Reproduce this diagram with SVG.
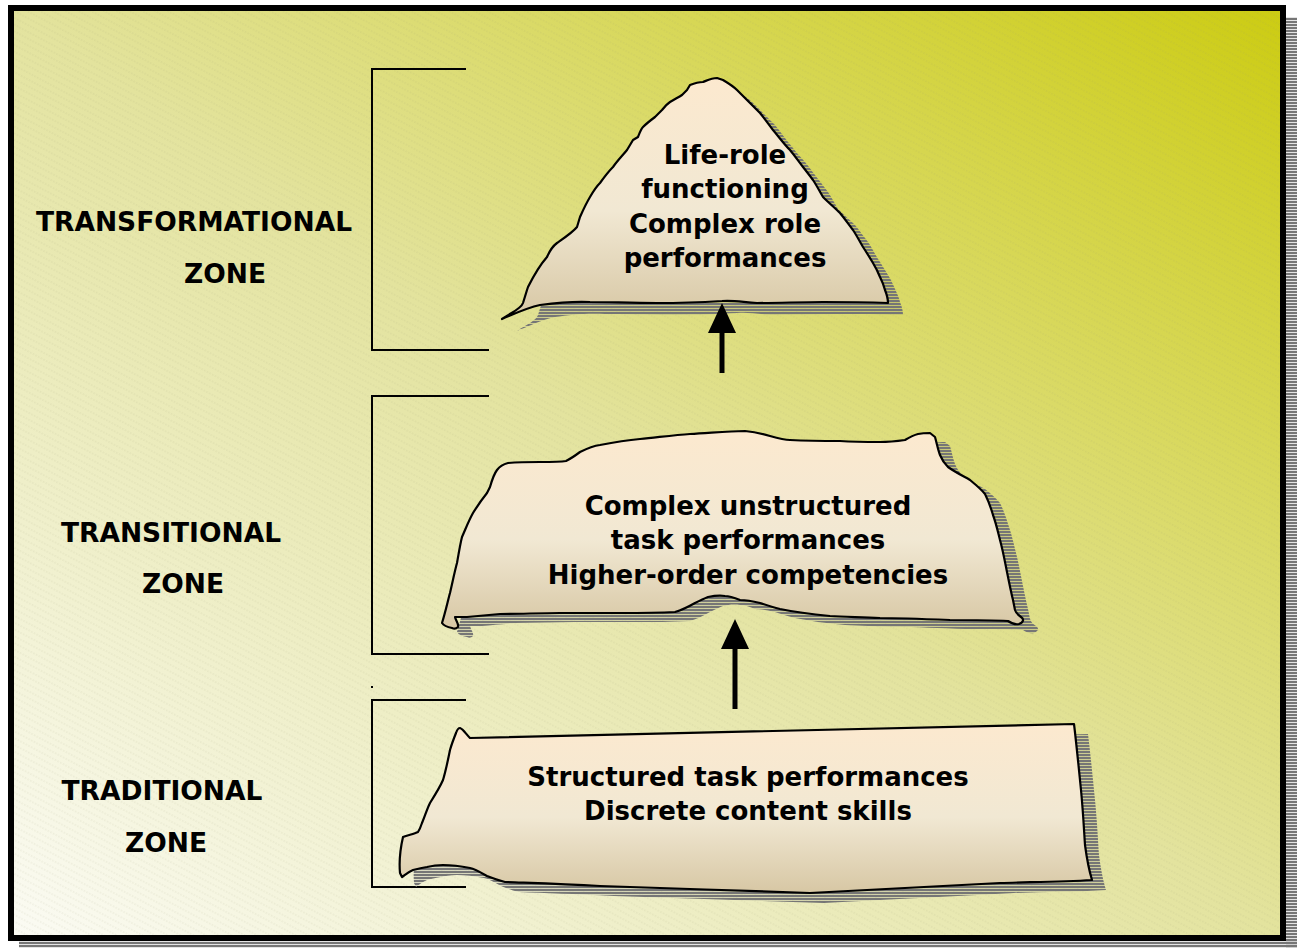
<svg xmlns="http://www.w3.org/2000/svg" width="1300" height="948" viewBox="0 0 1300 948">
<style>
.lbl{font-family:"DejaVu Sans","Verdana",sans-serif;font-weight:bold;font-size:26px;fill:#000;text-anchor:middle}
.zl{font-size:26.5px}
.node{fill:url(#nodeFill);stroke:#000;stroke-width:2.2;stroke-linejoin:round}
.shadow{fill:url(#stripes);stroke:none}
.brk{fill:none;stroke:#000;stroke-width:2}
.conn{stroke:#000;stroke-width:5;fill:none}
</style>
<defs>
<linearGradient id="bg" x1="0" y1="1" x2="1" y2="0">
<stop offset="0" stop-color="#fbfbf4"/>
<stop offset="0.5" stop-color="#e3e39e"/>
<stop offset="1" stop-color="#cccc12"/>
</linearGradient>
<pattern id="hatch" width="6" height="6" patternUnits="userSpaceOnUse" patternTransform="rotate(28)">
<line x1="0" y1="3" x2="6" y2="3" stroke="#8a8a6a" stroke-width="0.6" stroke-dasharray="1.5 1.5" stroke-opacity="0.3"/>
</pattern>
<pattern id="stripes" width="6" height="3" patternUnits="userSpaceOnUse">
<rect x="0" y="0" width="6" height="2.2" fill="#767676"/>
</pattern>
<linearGradient id="nodeFill" x1="0" y1="0" x2="0" y2="1">
<stop offset="0" stop-color="#fce9cf"/>
<stop offset="0.55" stop-color="#f1e8d3"/>
<stop offset="1" stop-color="#d7c7a4"/>
</linearGradient>
<marker id="ah" markerUnits="userSpaceOnUse" markerWidth="30" markerHeight="28" refX="0" refY="14" orient="auto">
<path d="M0,0 L30,14 L0,28 Z" fill="#000"/>
</marker>
</defs>

<g id="frame">
<rect x="1286" y="17" width="11" height="931" class="shadow"/>
<rect x="19" y="941" width="1278" height="7" class="shadow"/>
<rect x="11" y="8" width="1272" height="930" fill="url(#bg)"/>
<rect x="11" y="8" width="1272" height="930" fill="url(#hatch)"/>
<rect x="11" y="8" width="1272" height="930" fill="none" stroke="#000" stroke-width="6"/>
</g>

<g id="brackets">
<path class="brk" d="M466,69 H372 V350 H489"/>
<path class="brk" d="M489,396 H372 V654 H489"/>
<path class="brk" d="M466,700 H372 V887 H466"/>
<rect x="371" y="686" width="2" height="2" fill="#000"/>
</g>

<g id="zone-transformational">
<text class="lbl zl" x="194" y="231">TRANSFORMATIONAL</text>
<text class="lbl zl" x="225" y="283">ZONE</text>
</g>
<g id="zone-transitional">
<text class="lbl zl" x="171" y="542">TRANSITIONAL</text>
<text class="lbl zl" x="183" y="593">ZONE</text>
</g>
<g id="zone-traditional">
<text class="lbl zl" x="162" y="800">TRADITIONAL</text>
<text class="lbl zl" x="166" y="852">ZONE</text>
</g>

<g id="node-top">
<path class="shadow" transform="translate(15,12)" d="M502,319 C512,312 521,309 523,303 L527,290 L528,287 C533,277 540,265 547,257 C550,250 553,246 557,243 C567,236 573,232 577,227 L580,217 C584,208 587,202 590,197 C594,190 597,186 600,183 C605,176 609,171 613,167 C618,160 623,155 627,150 L633,140 L638,137 C640,132 641,129 643,127 C647,123 651,120 655,117 C658,114 660,112 662,110 C665,106 667,104 670,102 C675,99 679,97 682,95 L687,90 L690,85 C695,83 699,82 703,82 C708,80 712,78 717,78 L723,80 C728,83 733,86 737,90 C742,95 746,99 750,103 C754,107 757,110 760,113 C765,119 769,125 773,130 C779,137 784,144 790,150 C795,156 799,162 803,167 C807,172 810,176 813,180 C817,186 820,192 823,197 C829,203 835,208 840,213 C845,219 849,225 853,230 C857,236 860,242 863,247 C867,253 870,258 873,263 C876,268 878,272 880,277 C882,281 884,286 885,290 C887,295 888,299 888,303 C860,302 840,302 823,302 C800,302 780,303 757,303 C742,302 733,300 722,301 C705,302 680,303 657,303 C630,303 610,302 590,302 C570,301 555,303 540,305 C526,308 514,314 502,319 Z"/>
<path class="node" d="M502,319 C512,312 521,309 523,303 L527,290 L528,287 C533,277 540,265 547,257 C550,250 553,246 557,243 C567,236 573,232 577,227 L580,217 C584,208 587,202 590,197 C594,190 597,186 600,183 C605,176 609,171 613,167 C618,160 623,155 627,150 L633,140 L638,137 C640,132 641,129 643,127 C647,123 651,120 655,117 C658,114 660,112 662,110 C665,106 667,104 670,102 C675,99 679,97 682,95 L687,90 L690,85 C695,83 699,82 703,82 C708,80 712,78 717,78 L723,80 C728,83 733,86 737,90 C742,95 746,99 750,103 C754,107 757,110 760,113 C765,119 769,125 773,130 C779,137 784,144 790,150 C795,156 799,162 803,167 C807,172 810,176 813,180 C817,186 820,192 823,197 C829,203 835,208 840,213 C845,219 849,225 853,230 C857,236 860,242 863,247 C867,253 870,258 873,263 C876,268 878,272 880,277 C882,281 884,286 885,290 C887,295 888,299 888,303 C860,302 840,302 823,302 C800,302 780,303 757,303 C742,302 733,300 722,301 C705,302 680,303 657,303 C630,303 610,302 590,302 C570,301 555,303 540,305 C526,308 514,314 502,319 Z"/>
<text class="lbl" x="725" y="164">Life-role</text>
<text class="lbl" x="725" y="198">functioning</text>
<text class="lbl" x="725" y="233">Complex role</text>
<text class="lbl" x="725" y="267">performances</text>
</g>

<g id="node-middle">
<path class="shadow" transform="translate(15,9)" d="M442,623 C446,610 448,600 450,593 C453,580 455,570 457,563 C459,552 460,545 462,537 C466,528 469,520 473,513 C478,505 483,498 487,493 L490,487 C492,480 494,474 497,470 C500,466 504,464 508,463 C520,462 530,462 540,462 C550,462 560,462 566,461 C572,458 576,455 580,452 C586,449 592,446 600,445 C615,442 628,440 640,439 C660,437 675,435 690,434 C710,433 728,431 745,431 C755,432 763,434 770,436 C777,438 784,440 790,440 C810,441 825,441 840,441 C855,442 868,442 880,442 C890,442 898,441 905,440 C910,437 914,435 918,434 C923,433 927,433 930,433 L935,437 C937,444 938,450 940,455 C942,460 945,464 948,467 C955,472 963,476 970,480 C976,485 981,489 985,494 C988,500 991,508 993,515 C996,523 998,532 1000,540 C1003,551 1005,562 1007,572 C1009,582 1011,592 1013,600 L1015,610 C1016,613 1018,615 1021,617 C1024,619 1024,622 1019,624 C1015,625 1011,623 1008,621 C990,620 970,620 950,620 C925,619 900,618 880,618 C860,617 845,617 830,616 C810,614 795,612 780,609 C772,607 766,605 760,603 C752,601 746,600 740,600 C735,598 730,596 725,596 C718,595 713,596 708,597 C703,599 699,601 695,603 C688,607 682,610 675,612 C655,613 640,613 620,613 C600,613 580,613 560,613 C540,613 520,614 500,614 C488,615 477,616 467,617 C462,617 458,617 455,617 C456,621 459,624 458,627 C456,629 454,629 452,628 C447,627 444,626 442,623 Z"/>
<path class="node" d="M442,623 C446,610 448,600 450,593 C453,580 455,570 457,563 C459,552 460,545 462,537 C466,528 469,520 473,513 C478,505 483,498 487,493 L490,487 C492,480 494,474 497,470 C500,466 504,464 508,463 C520,462 530,462 540,462 C550,462 560,462 566,461 C572,458 576,455 580,452 C586,449 592,446 600,445 C615,442 628,440 640,439 C660,437 675,435 690,434 C710,433 728,431 745,431 C755,432 763,434 770,436 C777,438 784,440 790,440 C810,441 825,441 840,441 C855,442 868,442 880,442 C890,442 898,441 905,440 C910,437 914,435 918,434 C923,433 927,433 930,433 L935,437 C937,444 938,450 940,455 C942,460 945,464 948,467 C955,472 963,476 970,480 C976,485 981,489 985,494 C988,500 991,508 993,515 C996,523 998,532 1000,540 C1003,551 1005,562 1007,572 C1009,582 1011,592 1013,600 L1015,610 C1016,613 1018,615 1021,617 C1024,619 1024,622 1019,624 C1015,625 1011,623 1008,621 C990,620 970,620 950,620 C925,619 900,618 880,618 C860,617 845,617 830,616 C810,614 795,612 780,609 C772,607 766,605 760,603 C752,601 746,600 740,600 C735,598 730,596 725,596 C718,595 713,596 708,597 C703,599 699,601 695,603 C688,607 682,610 675,612 C655,613 640,613 620,613 C600,613 580,613 560,613 C540,613 520,614 500,614 C488,615 477,616 467,617 C462,617 458,617 455,617 C456,621 459,624 458,627 C456,629 454,629 452,628 C447,627 444,626 442,623 Z"/>
<text class="lbl" x="748" y="515">Complex unstructured</text>
<text class="lbl" x="748" y="549">task performances</text>
<text class="lbl" x="748" y="584">Higher-order competencies</text>
</g>

<g id="node-bottom">
<path class="shadow" transform="translate(14,10)" d="M400,873 C399,862 400,850 403,837 C408,835 414,834 418,832 C420,829 421,826 422,823 C425,816 427,809 430,803 C435,795 440,787 443,780 C446,770 448,760 450,750 C452,743 454,738 456,733 C457,730 458,728 460,728 C463,729 466,734 470,738 L1074,724 C1076,740 1078,760 1081,790 C1083,810 1084,830 1085,845 C1087,860 1089,870 1092,880 C1060,882 1030,882 1000,883 C940,886 870,890 810,893 C740,891 670,888 600,886 C560,884 530,883 505,882 C497,880 492,878 487,876 C480,872 475,869 470,868 C460,866 451,865 443,865 C436,865 431,866 427,867 C421,868 417,869 413,870 C408,872 405,875 402,877 Z"/>
<path class="node" d="M400,873 C399,862 400,850 403,837 C408,835 414,834 418,832 C420,829 421,826 422,823 C425,816 427,809 430,803 C435,795 440,787 443,780 C446,770 448,760 450,750 C452,743 454,738 456,733 C457,730 458,728 460,728 C463,729 466,734 470,738 L1074,724 C1076,740 1078,760 1081,790 C1083,810 1084,830 1085,845 C1087,860 1089,870 1092,880 C1060,882 1030,882 1000,883 C940,886 870,890 810,893 C740,891 670,888 600,886 C560,884 530,883 505,882 C497,880 492,878 487,876 C480,872 475,869 470,868 C460,866 451,865 443,865 C436,865 431,866 427,867 C421,868 417,869 413,870 C408,872 405,875 402,877 Z"/>
<text class="lbl" x="748" y="786">Structured task performances</text>
<text class="lbl" x="748" y="820">Discrete content skills</text>
</g>

<g id="connectors">
<line class="conn" x1="722" y1="373" x2="722" y2="333" marker-end="url(#ah)"/>
<line class="conn" x1="735" y1="709" x2="735" y2="649" marker-end="url(#ah)"/>
</g>
</svg>
